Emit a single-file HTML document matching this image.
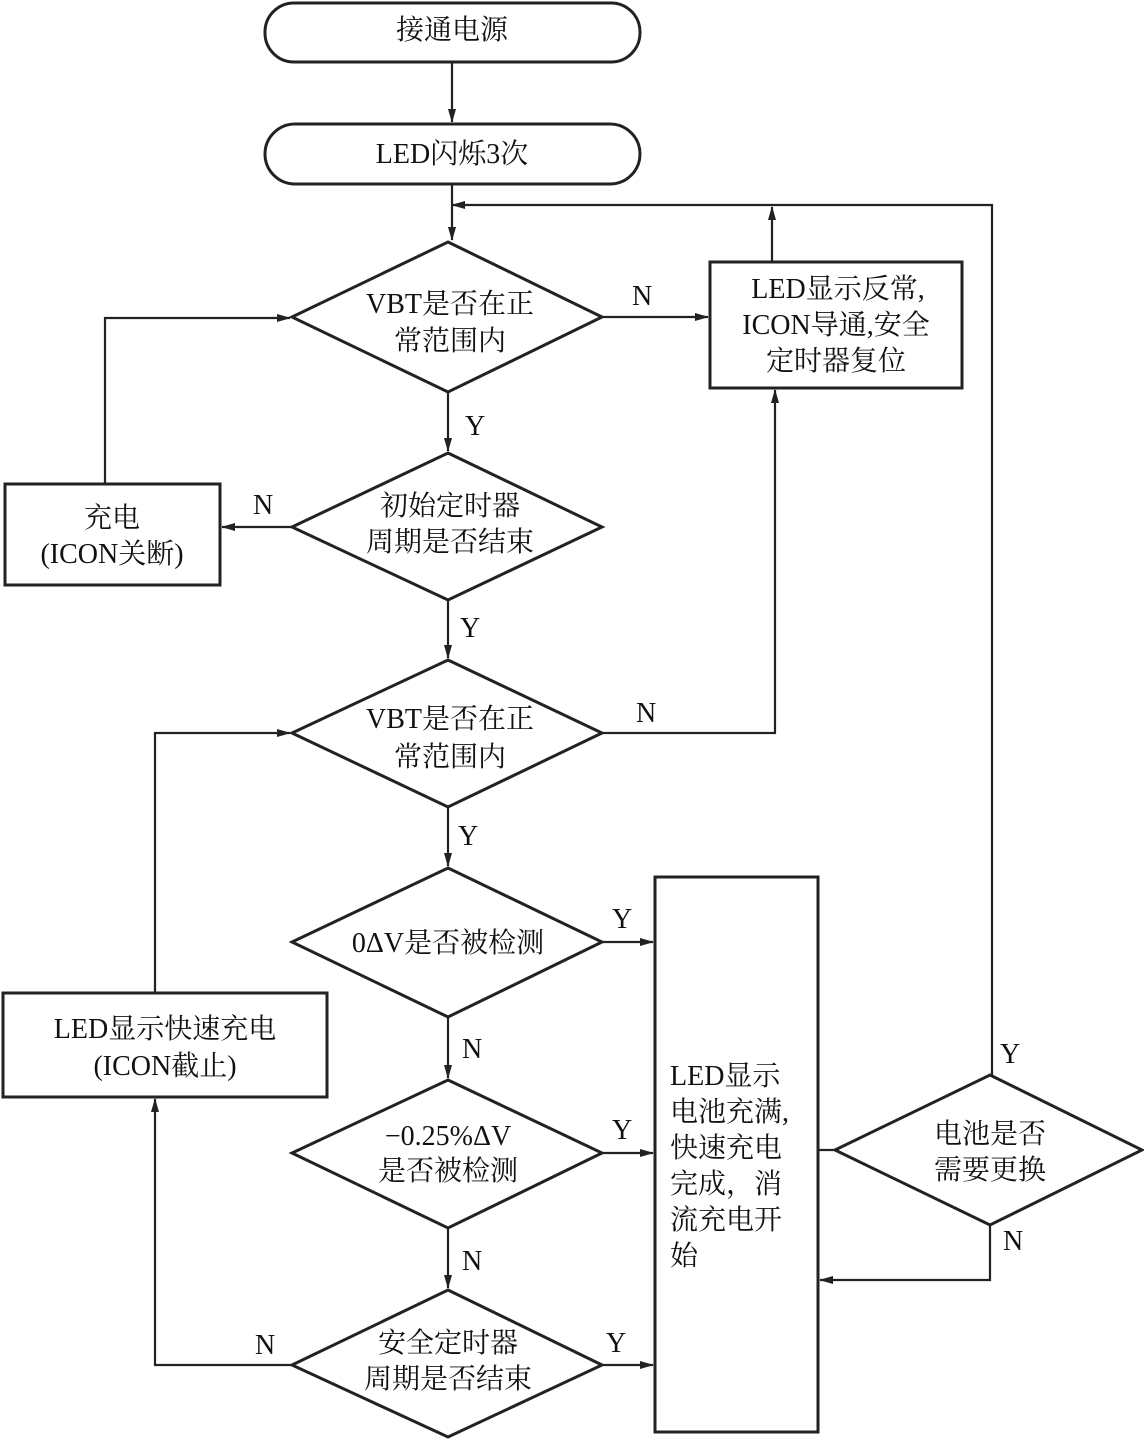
<!DOCTYPE html>
<html><head><meta charset="utf-8"><style>
html,body{margin:0;padding:0;background:#fff;}
svg{display:block;}
text{font-family:"Liberation Serif","Noto Serif CJK SC",serif;font-size:28px;fill:#111;}
</style></head><body>
<svg width="1144" height="1442" viewBox="0 0 1144 1442" xmlns="http://www.w3.org/2000/svg">
<defs><marker id="a" markerWidth="14" markerHeight="10" refX="13" refY="5" orient="auto" markerUnits="userSpaceOnUse"><path d="M0,1 L14,5 L0,9 Z" fill="#222"/></marker></defs>
<g stroke="#222" stroke-width="3" fill="none">
<rect x="265" y="3" width="375" height="59" rx="29"/>
<rect x="265" y="124" width="375" height="60" rx="30"/>
<polygon points="448,242 602,317 448,392 292,317"/>
<polygon points="448,453 602,527 448,600 292,527"/>
<polygon points="448,660 602,733 448,807 292,733"/>
<polygon points="448,868 602,942 448,1017 292,942"/>
<polygon points="448,1080 602,1153 448,1228 292,1153"/>
<polygon points="448,1290 602,1365 448,1437 292,1365"/>
<polygon points="990,1075 1142,1150 990,1225 835,1150"/>
<rect x="710" y="262" width="252" height="126"/>
<rect x="5" y="484" width="215" height="101"/>
<rect x="3" y="993" width="324" height="104"/>
<rect x="655" y="877" width="163" height="555"/>
</g>
<g stroke="#222" stroke-width="2.2" fill="none">
<line x1="452" y1="62" x2="452" y2="122" marker-end="url(#a)"/>
<line x1="452" y1="184" x2="452" y2="240" marker-end="url(#a)"/>
<polyline points="992,1075 992,205 452,205" marker-end="url(#a)"/>
<line x1="772" y1="262" x2="772" y2="207" marker-end="url(#a)"/>
<line x1="602" y1="317" x2="708" y2="317" marker-end="url(#a)"/>
<line x1="448" y1="392" x2="448" y2="451" marker-end="url(#a)"/>
<line x1="292" y1="527" x2="222" y2="527" marker-end="url(#a)"/>
<polyline points="105,484 105,318 290,318" marker-end="url(#a)"/>
<line x1="448" y1="600" x2="448" y2="658" marker-end="url(#a)"/>
<polyline points="602,733 775,733 775,390" marker-end="url(#a)"/>
<polyline points="155,993 155,733 290,733" marker-end="url(#a)"/>
<line x1="448" y1="807" x2="448" y2="866" marker-end="url(#a)"/>
<line x1="602" y1="942" x2="653" y2="942" marker-end="url(#a)"/>
<line x1="448" y1="1017" x2="448" y2="1078" marker-end="url(#a)"/>
<line x1="602" y1="1153" x2="653" y2="1153" marker-end="url(#a)"/>
<line x1="448" y1="1228" x2="448" y2="1288" marker-end="url(#a)"/>
<line x1="602" y1="1365" x2="653" y2="1365" marker-end="url(#a)"/>
<polyline points="292,1365 155,1365 155,1099" marker-end="url(#a)"/>
<line x1="818" y1="1150" x2="835" y2="1150"/>
<polyline points="990,1225 990,1280 820,1280" marker-end="url(#a)"/>
</g>
<g text-anchor="middle">
<text x="452" y="39">接通电源</text>
<text x="452" y="163">LED闪烁3次</text>
<text x="450" y="313">VBT是否在正</text>
<text x="450" y="350">常范围内</text>
<text x="450" y="515">初始定时器</text>
<text x="450" y="551">周期是否结束</text>
<text x="450" y="728">VBT是否在正</text>
<text x="450" y="766">常范围内</text>
<text x="448" y="952">0ΔV是否被检测</text>
<text x="448" y="1145">−0.25%ΔV</text>
<text x="448" y="1180">是否被检测</text>
<text x="448" y="1352">安全定时器</text>
<text x="448" y="1388">周期是否结束</text>
<text x="838" y="298">LED显示反常,</text>
<text x="836" y="334">ICON导通,安全</text>
<text x="836" y="370">定时器复位</text>
<text x="112" y="527">充电</text>
<text x="112" y="563">(ICON关断)</text>
<text x="165" y="1038">LED显示快速充电</text>
<text x="165" y="1075">(ICON截止)</text>
<text x="990" y="1143">电池是否</text>
<text x="990" y="1179">需要更换</text>
</g>
<g>
<text x="670" y="1085">LED显示</text>
<text x="670" y="1121">电池充满,</text>
<text x="670" y="1157">快速充电</text>
<text x="670" y="1193">完成，消</text>
<text x="670" y="1229">流充电开</text>
<text x="670" y="1265">始</text>
<text x="632" y="305">N</text>
<text x="465" y="435">Y</text>
<text x="253" y="514">N</text>
<text x="460" y="637">Y</text>
<text x="636" y="722">N</text>
<text x="458" y="845">Y</text>
<text x="612" y="928">Y</text>
<text x="462" y="1058">N</text>
<text x="612" y="1139">Y</text>
<text x="462" y="1270">N</text>
<text x="606" y="1352">Y</text>
<text x="255" y="1354">N</text>
<text x="1000" y="1063">Y</text>
<text x="1003" y="1250">N</text>
</g>
</svg>
</body></html>
